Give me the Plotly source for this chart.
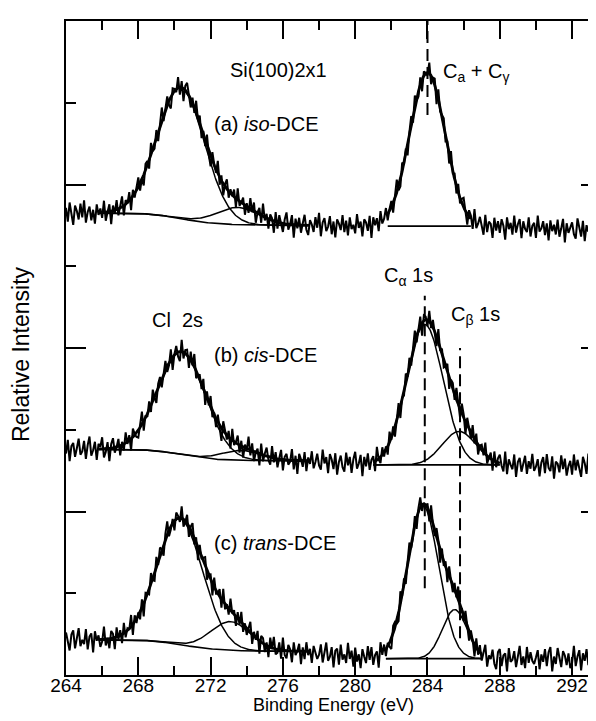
import math
import numpy as np
import plotly.graph_objects as go

# ---------------- data ----------------
energy_start = 264.0     # eV, first sample of the measured spectra
energy_step = 0.1        # eV
n_points = 300

# residual (data - fit), in 0.01 intensity units
noise_a = [5,-8,10,-3,-11,7,2,-6,9,-4,12,-9,1,6,-7,3,-10,8,-2,4,
           -5,11,-8,0,7,-12,5,-3,9,-6,2,10,-9,4,-1,8,-11,6,-4,3,
           9,-7,1,-10,6,4,-8,11,-2,-5,7,-9,3,12,-6,0,8,-4,-11,5,
           2,-3,10,-7,6,-12,4,9,-1,-8,5,-5,11,-2,7,-9,3,-6,10,-4,
           -10,8,1,-3,12,-7,5,-11,2,9,-6,4,-1,7,-8,11,-4,0,6,-9,
           3,-5,10,-2,8,-10,1,6,-7,12,-3,4,-9,5,2,-11,9,-6,7,-1,
           -8,4,11,-5,0,9,-12,6,-3,7,-7,2,10,-4,-9,5,1,-6,8,-2,
           12,-10,3,7,-5,-1,9,-8,4,-11,6,2,-4,10,-6,5,-9,8,-3,1,
           -7,11,-2,4,-10,6,3,-5,9,-12,7,-1,5,-8,10,-3,0,8,-6,2,
           6,-9,1,12,-4,-7,8,-2,5,-10,3,9,-6,11,-1,-5,7,-11,4,0,
           -3,10,-8,2,6,-12,9,-4,1,7,-6,3,-9,11,-2,5,-7,8,-5,4,
           9,-1,-10,6,3,-8,12,-5,0,7,-3,-9,10,-6,4,2,-11,8,-4,5,
           -6,7,1,-12,9,-2,4,-7,11,-5,3,8,-10,6,-1,-4,10,-8,2,5,
           -9,12,-3,0,7,-6,5,-11,8,-2,4,-5,9,-7,1,10,-12,6,-3,3,
           7,-4,-8,11,2,-6,9,-10,5,-1,6,-9,12,-3,-5,8,0,-7,4,-2]
noise_b = [-4,9,-11,3,6,-7,1,10,-5,-2,8,-9,4,12,-6,-1,7,-10,5,2,
           11,-8,-3,6,-12,4,9,-5,0,7,-9,3,-6,10,-2,5,-11,8,1,-4,
           -7,5,12,-9,2,-3,8,-6,11,-1,-10,4,6,-8,3,9,-5,-2,10,-12,
           1,7,-4,-9,11,-6,3,5,-10,8,-2,12,-7,0,4,-5,9,-11,6,-3,
           10,-6,2,-8,7,-1,-12,9,4,-4,6,-9,11,-3,1,8,-7,5,-10,3,
           -2,12,-5,7,-9,0,4,-11,10,-6,2,8,-3,-7,11,-4,6,-8,1,9,
           -10,3,6,-4,-1,11,-8,5,-12,7,2,-5,9,-9,4,-2,10,-6,0,8,
           -3,-7,12,-1,5,-10,8,3,-6,9,-11,1,7,-4,-8,10,-2,6,-9,4,
           11,-5,0,8,-12,6,-3,9,-7,2,5,-10,12,-1,-6,7,-4,3,-8,10,
           -2,6,-9,4,10,-11,1,-5,8,-3,7,-8,2,11,-6,-1,9,-12,5,3,
           -6,10,-4,7,-1,-9,12,-3,5,-7,0,8,-10,4,6,-5,11,-2,-8,9,
           3,-12,7,1,-6,10,-4,8,-9,2,5,-3,11,-7,-1,6,-10,9,-5,4,
           8,-2,-7,12,-9,5,0,-4,10,-11,3,7,-6,1,9,-8,4,-3,11,-5,
           -1,6,-10,3,8,-7,11,-2,-5,9,-12,4,2,-6,10,-3,7,-9,0,5,
           -8,11,-4,6,-1,-10,9,3,-7,12,-2,-5,8,-11,4,1,-6,10,-3,7]
noise_c = [7,-3,-10,5,9,-8,2,11,-6,0,-4,10,-9,3,6,-12,8,-1,4,-7,
           -2,12,-6,1,-9,7,4,-11,9,-3,5,-8,10,-5,2,-1,11,-10,6,-4,
           3,-7,8,-12,6,1,-5,10,-2,-8,9,-4,7,0,-11,5,12,-6,-3,4,
           -9,6,2,-4,11,-7,-1,8,-10,3,10,-6,5,-12,7,-2,4,9,-8,1,
           5,-11,9,-3,0,7,-8,12,-5,2,-6,11,-1,4,-9,6,-4,10,-7,3,
           -6,1,10,-9,4,-2,8,-12,6,5,-7,3,-10,9,-1,11,-5,-3,7,-8,
           12,-4,-7,6,2,-10,9,-3,1,8,-11,5,-6,10,-2,4,-9,7,0,-5,
           -1,9,-8,3,11,-6,-2,7,-12,4,6,-9,10,-4,1,-7,12,-3,5,-10,
           8,-5,2,-11,7,0,-6,10,-3,9,-8,1,4,-12,11,-2,6,-7,3,-4,
           -10,7,5,-3,-8,12,-1,6,-9,2,10,-5,-4,8,-11,3,9,-6,1,-2,
           4,-9,11,-1,-6,8,3,-12,7,-4,5,-10,9,0,-7,6,-3,12,-8,2,
           -5,10,-2,-8,6,1,-11,9,-4,7,-6,3,11,-9,2,-1,8,-5,-10,6,
           9,-7,3,5,-12,10,-3,-1,7,-8,4,12,-6,2,-9,11,-4,6,-2,-5,
           1,8,-10,4,-3,9,-7,6,11,-12,2,-5,10,-1,-8,7,3,-6,5,-9,
           -4,12,-7,2,8,-11,5,-2,9,-6,0,10,-8,3,-5,11,-10,4,7,-3]

spectra = ["a", "b", "c"]
noise = {"a": noise_a, "b": noise_b, "c": noise_c}

# background levels (relative intensity units)
bg_left = {"a": 5.65, "b": 2.76, "c": 0.43}       # low-BE side of Cl 2s
bg_cl_right = {"a": 5.50, "b": 2.62, "c": 0.29}   # high-BE side of Cl 2s
bg_c_base = {"a": 5.49, "b": 2.57, "c": 0.20}     # under C 1s
bg_tail = {"a": 5.43, "b": 2.55, "c": 0.20}       # far right end

# fitted peaks: (centre eV, height, FWHM eV)
cl_peaks = {
    "a": [(270.35, 1.60, 3.1), (273.5, 0.21, 2.8)],
    "b": [(270.40, 1.26, 3.1), (273.7, 0.12, 2.6)],
    "c": [(270.30, 1.54, 3.0), (273.1, 0.35, 2.6)],
}
c_peaks = {
    "a": [(284.00, 1.88, 2.3)],
    "b": [(283.85, 1.72, 2.4), (285.75, 0.41, 2.2)],
    "c": [(283.75, 1.87, 2.05), (285.5, 0.60, 1.6)],
}
cl_fit_range = (265.8, 277.5)
c_fit_range = {"a": (281.8, 286.4), "b": (281.0, 288.0), "c": (281.7, 287.0)}

# reference energies marked by dashed lines
line_a_energy = 284.0
line_alpha_energy = 283.85
line_beta_energy = 285.8

x_ticks = [264, 268, 272, 276, 280, 284, 288, 292]

# ---------------- model helpers ----------------
LN2 = math.log(2.0)


def gauss(x, c, h, w):
    return h * np.exp(-4 * LN2 * (x - c) ** 2 / w ** 2)


def cum_frac(x, peaks):
    erf = np.vectorize(math.erf)
    tot = 0.0
    acc = np.zeros_like(x)
    for c, h, w in peaks:
        s = w / (2 * math.sqrt(2 * LN2))
        area = h * s
        acc = acc + area * 0.5 * (1 + erf((x - c) / (s * math.sqrt(2))))
        tot += area
    return acc / tot


def cl_bg(x, k):
    F = cum_frac(x, cl_peaks[k])
    return bg_cl_right[k] + (bg_left[k] - bg_cl_right[k]) * (1 - F)


x = energy_start + energy_step * np.arange(n_points)

fig = go.Figure()
LINE = "black"

for k in spectra:
    F = cum_frac(x, cl_peaks[k])
    r1 = np.clip((x - 276.0) / 6.0, 0, 1)
    r2 = np.clip((x - 287.5) / 6.0, 0, 1)
    bg_raw = (bg_c_base[k] + (bg_cl_right[k] - bg_c_base[k]) * (1 - r1)
              + (bg_left[k] - bg_cl_right[k]) * (1 - F)
              + (bg_tail[k] - bg_c_base[k]) * r2)
    y = bg_raw.copy()
    for p in cl_peaks[k] + c_peaks[k]:
        y = y + gauss(x, *p)
    y = y + 0.013 * np.array(noise[k], dtype=float)
    fig.add_trace(go.Scatter(x=x, y=y, mode="lines",
                             line=dict(color=LINE, width=2.0), hoverinfo="skip"))

    # Cl 2s fit
    xf = np.linspace(cl_fit_range[0], cl_fit_range[1], 300)
    b = cl_bg(xf, k)
    fig.add_trace(go.Scatter(x=xf, y=b, mode="lines", line=dict(color=LINE, width=1.6)))
    env = b.copy()
    for p in cl_peaks[k]:
        comp = gauss(xf, *p)
        env = env + comp
        fig.add_trace(go.Scatter(x=xf, y=b + comp, mode="lines",
                                 line=dict(color=LINE, width=1.5)))
    fig.add_trace(go.Scatter(x=xf, y=env, mode="lines", line=dict(color=LINE, width=2.8)))

    # C 1s fit
    lo, hi = c_fit_range[k]
    xc = np.linspace(lo, hi, 200)
    base = np.full_like(xc, bg_c_base[k])
    fig.add_trace(go.Scatter(x=xc, y=base, mode="lines", line=dict(color=LINE, width=1.8)))
    envc = base.copy()
    for p in c_peaks[k]:
        comp = gauss(xc, *p)
        envc = envc + comp
        fig.add_trace(go.Scatter(x=xc, y=base + comp, mode="lines",
                                 line=dict(color=LINE, width=1.5)))
    fig.add_trace(go.Scatter(x=xc, y=envc, mode="lines", line=dict(color=LINE, width=2.8)))

# dashed marker lines
dash = "12px,6px"
for xe, y0, y1 in [(line_a_energy, 6.85, 8.0),
                   (line_alpha_energy, 1.06, 4.64),
                   (line_beta_energy, 0.45, 4.0)]:
    fig.add_shape(type="line", xref="x", yref="y", x0=xe, x1=xe, y0=y0, y1=y1,
                  line=dict(color=LINE, width=2, dash=dash))

FONT = "Liberation Sans, Arial, Helvetica, sans-serif"
ann = [
    dict(x=275.74, y=7.40, text="Si(100)2x1", xanchor="center"),
    dict(x=272.10, y=6.74, text="(a) <i>iso</i>-DCE", xanchor="left"),
    dict(x=284.77, y=7.37, text="C<sub>a</sub> + C<sub>γ</sub>", xanchor="left"),
    dict(x=270.17, y=4.34, text="Cl\u00a0\u00a02s", xanchor="center"),
    dict(x=272.10, y=3.91, text="(b) <i>cis</i>-DCE", xanchor="left"),
    dict(x=282.95, y=4.88, text="C<sub>α</sub> 1s", xanchor="center"),
    dict(x=286.64, y=4.40, text="C<sub>β</sub> 1s", xanchor="center"),
    dict(x=272.10, y=1.61, text="(c) <i>trans</i>-DCE", xanchor="left"),
]
for a in ann:
    fig.add_annotation(xref="x", yref="y", yanchor="middle", showarrow=False,
                       font=dict(family=FONT, size=20, color=LINE), **a)

fig.add_annotation(xref="paper", yref="paper", x=0.5, y=-0.046, text="Binding Energy (eV)",
                   showarrow=False, xanchor="center", yanchor="middle",
                   font=dict(family=FONT, size=18, color=LINE))
fig.add_annotation(xref="paper", yref="paper", x=-0.085, y=0.49, text="Relative Intensity",
                   showarrow=False, xanchor="center", yanchor="middle", textangle=-90,
                   font=dict(family=FONT, size=23, color=LINE))

fig.update_layout(
    width=596, height=721,
    margin=dict(l=58, r=1, t=13, b=54),
    plot_bgcolor="white", paper_bgcolor="white",
    showlegend=False,
    font=dict(family=FONT, color=LINE),
    xaxis=dict(range=[264, 293.6], tickmode="array", tickvals=x_ticks,
               ticks="inside", ticklen=18, tickwidth=1.5, tickcolor=LINE,
               ticklabelstandoff=-8,
               showline=True, linewidth=2, linecolor=LINE, mirror="ticks",
               showgrid=False, zeroline=False,
               tickfont=dict(family=FONT, size=19, color=LINE),
               minor=dict(dtick=2, tick0=264, ticks="inside", ticklen=9,
                          tickwidth=1.5, tickcolor=LINE, showgrid=False)),
    yaxis=dict(range=[0, 8], dtick=2, tick0=0, ticks="inside", ticklen=20,
               tickwidth=1.5, tickcolor=LINE, showticklabels=False,
               showline=True, linewidth=2, linecolor=LINE, mirror="ticks",
               showgrid=False, zeroline=False,
               minor=dict(dtick=1, tick0=0, ticks="inside", ticklen=10,
                          tickwidth=1.5, tickcolor=LINE, showgrid=False)),
)

fig.write_html("out.html")
